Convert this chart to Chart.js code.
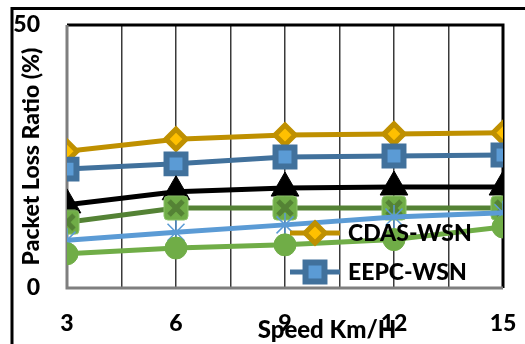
<!DOCTYPE html>
<html>
<head>
<meta charset="utf-8">
<script src="https://cdn.jsdelivr.net/npm/chart.js@4/dist/chart.umd.min.js"></script>
<style>
  html, body { margin: 0; padding: 0; background: #fff; }
  #wrap { position: relative; width: 525px; height: 344px; }
</style>
</head>
<body>
<div id="wrap"><canvas id="c" width="525" height="344"></canvas></div>
<script>
// Speed (km/h) on the x axis
const speeds = [3, 6, 9, 12, 15];

// Packet loss ratio (%) per scheme
const cdasWsn = [26.0, 28.3, 29.1, 29.3, 29.5];
const eepcWsn = [22.6, 23.6, 24.9, 25.1, 25.3];
const scheme3 = [15.8, 18.3, 19.0, 19.2, 19.2];
const scheme4 = [12.5, 15.2, 15.2, 15.2, 15.2];
const scheme5 = [9.1, 10.6, 12.0, 13.5, 14.3];
const scheme6 = [6.5, 7.6, 8.2, 9.2, 11.6];

const seriesNames = ['CDAS-WSN', 'EEPC-WSN', 'Scheme 3', 'Scheme 4', 'Scheme 5', 'Scheme 6'];
const yTicks = [0, 50];
const legendCount = 2;

const FONT = 'Lato, "Open Sans", sans-serif';
const WEIGHT = '900';

function toPoints(vals) {
  return speeds.map((s, i) => ({ x: s, y: vals[i] }));
}

// Light-green rounded square with a dark-green cross
function crossBox() {
  const cv = document.createElement('canvas');
  cv.width = 26; cv.height = 26;
  const g = cv.getContext('2d');
  g.fillStyle = '#70AD47';
  g.strokeStyle = '#8CC36A';
  g.lineWidth = 1;
  g.beginPath();
  g.roundRect(1, 1, 24, 24, 4);
  g.fill();
  g.stroke();
  g.strokeStyle = '#548235';
  g.lineWidth = 5;
  g.lineCap = 'butt';
  g.beginPath();
  g.moveTo(6, 6); g.lineTo(20, 20);
  g.moveTo(20, 6); g.lineTo(6, 20);
  g.stroke();
  return cv;
}

const styles = [
  { borderColor: '#BF9000', pointStyle: 'rectRot', pointRadius: 10, pointBorderWidth: 5,
    pointBackgroundColor: '#FFC000', pointBorderColor: '#BF9000' },
  { borderColor: '#41719C', pointStyle: 'rect', pointRadius: 13.4, pointBorderWidth: 6,
    pointBackgroundColor: '#5B9BD5', pointBorderColor: '#41719C' },
  { borderColor: '#000000', pointStyle: 'triangle', pointRadius: 16, pointBorderWidth: 1,
    pointBackgroundColor: '#000000', pointBorderColor: '#000000' },
  { borderColor: '#548235', pointStyle: crossBox(), pointRadius: 13, pointBorderWidth: 0,
    pointBackgroundColor: '#70AD47', pointBorderColor: '#548235' },
  { borderColor: '#5B9BD5', pointStyle: 'star', pointRadius: 12, pointBorderWidth: 1.5,
    pointBackgroundColor: '#5B9BD5', pointBorderColor: '#5B9BD5' },
  { borderColor: '#70AD47', pointStyle: 'circle', pointRadius: 11, pointBorderWidth: 1,
    pointBackgroundColor: '#70AD47', pointBorderColor: '#70AD47' }
];

const seriesValues = [cdasWsn, eepcWsn, scheme3, scheme4, scheme5, scheme6];

const datasets = seriesValues.map((vals, i) => Object.assign({
  label: seriesNames[i],
  data: toPoints(vals),
  borderWidth: 5,
  tension: 0,
  order: seriesValues.length - i
}, styles[i]));

// Outer frame and plot border
const framePlugin = {
  id: 'frame',
  beforeDraw(chart) {
    const ctx = chart.ctx;
    ctx.save();
    ctx.strokeStyle = '#000';
    ctx.lineWidth = 3;
    ctx.beginPath();
    ctx.moveTo(12, 344); ctx.lineTo(12, 8.5); ctx.lineTo(525, 8.5);
    ctx.stroke();
    ctx.restore();
  },
  beforeDatasetsDraw(chart) {
    const { ctx, chartArea: a } = chart;
    ctx.save();
    ctx.lineWidth = 3;
    ctx.strokeStyle = '#000';
    ctx.beginPath();
    ctx.moveTo(a.left, a.top); ctx.lineTo(a.right, a.top); ctx.lineTo(a.right, a.bottom);
    ctx.stroke();
    ctx.strokeStyle = '#7F7F7F';
    ctx.beginPath();
    ctx.moveTo(a.right, a.bottom); ctx.lineTo(a.left, a.bottom); ctx.lineTo(a.left, a.top);
    ctx.stroke();
    ctx.restore();
  }
};

// Axis title under the x axis
const xTitlePlugin = {
  id: 'xTitle',
  afterDraw(chart) {
    const ctx = chart.ctx;
    ctx.save();
    ctx.font = WEIGHT + ' 24px ' + FONT;
    ctx.fillStyle = '#000';
    ctx.textAlign = 'center';
    ctx.textBaseline = 'middle';
    ctx.fillText('Speed Km/H', 327, 330);
    ctx.restore();
  }
};

// Legend drawn inside the plot area, transparent background
const innerLegend = {
  id: 'innerLegend',
  afterDraw(chart) {
    const ctx = chart.ctx;
    const rows = [233, 272];
    ctx.save();
    for (let i = 0; i < legendCount; i++) {
      const ds = chart.data.datasets[i];
      const y = rows[i];
      ctx.strokeStyle = ds.borderColor;
      ctx.lineWidth = 5;
      ctx.beginPath();
      ctx.moveTo(290, y); ctx.lineTo(340, y);
      ctx.stroke();
      ctx.fillStyle = ds.pointBackgroundColor;
      ctx.strokeStyle = ds.pointBorderColor;
      ctx.lineWidth = ds.pointBorderWidth;
      Chart.helpers.drawPoint(ctx, {
        pointStyle: ds.pointStyle,
        radius: ds.pointRadius,
        rotation: 0,
        borderWidth: ds.pointBorderWidth
      }, 315, y);
      ctx.fillStyle = '#000';
      ctx.font = WEIGHT + ' 23px ' + FONT;
      ctx.textAlign = 'left';
      ctx.textBaseline = 'middle';
      ctx.fillText(ds.label, 348, y + 1);
    }
    ctx.restore();
  }
};

new Chart(document.getElementById('c'), {
  type: 'line',
  data: { datasets },
  options: {
    responsive: false,
    animation: false,
    devicePixelRatio: 1,
    layout: { autoPadding: false, padding: { top: 25, right: 22, left: 0, bottom: 0 } },
    plugins: { legend: { display: false }, tooltip: { enabled: false } },
    scales: {
      x: {
        type: 'linear',
        min: speeds[0],
        max: speeds[speeds.length - 1],
        afterBuildTicks(scale) {
          const t = [];
          for (let v = speeds[0]; v <= speeds[speeds.length - 1] + 1e-9; v += (speeds[1] - speeds[0]) / 2) t.push({ value: v });
          scale.ticks = t;
        },
        afterFit(scale) {
          scale.height = 56;
          scale.paddingLeft = 0;
          scale.paddingRight = 0;
        },
        grid: {
          display: true,
          drawTicks: false,
          color: '#3A3A3A',
          lineWidth: 1.5
        },
        border: { display: false },
        ticks: {
          autoSkip: false,
          maxRotation: 0,
          padding: 22,
          color: '#000',
          font: { family: FONT, size: 23, weight: WEIGHT },
          callback(v) { return speeds.includes(v) ? String(v) : ''; }
        }
      },
      y: {
        min: yTicks[0],
        max: yTicks[yTicks.length - 1],
        afterBuildTicks(scale) { scale.ticks = yTicks.map(v => ({ value: v })); },
        afterFit(scale) {
          scale.width = 67;
          scale.paddingTop = 0;
          scale.paddingBottom = 0;
        },
        grid: { display: false, drawTicks: false },
        border: { display: false },
        ticks: {
          padding: 27,
          color: '#000',
          font: { family: FONT, size: 23, weight: WEIGHT }
        },
        title: {
          display: true,
          text: 'Packet Loss Ratio (%)',
          color: '#000',
          font: { family: FONT, size: 23, weight: WEIGHT },
          padding: { top: 18, bottom: 0 }
        }
      }
    }
  },
  plugins: [framePlugin, xTitlePlugin, innerLegend]
});
</script>
</body>
</html>
